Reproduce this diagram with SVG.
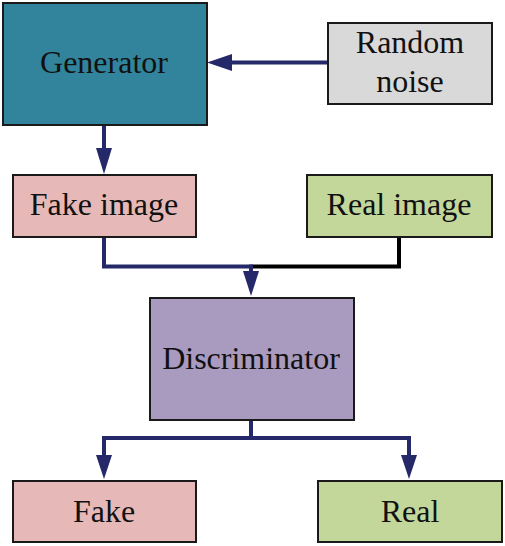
<svg xmlns="http://www.w3.org/2000/svg" width="505" height="546" viewBox="0 0 505 546">
<style>
.box{stroke:#1a1a1a;stroke-width:2}
.lbl{font-family:'Liberation Serif','Times New Roman',serif;font-size:32px;fill:#111;text-anchor:middle}
.ln{fill:none;stroke:#252869;stroke-width:4}
.blk{fill:none;stroke:#000;stroke-width:4}
.ah{fill:#252869}
</style>
<rect width="505" height="546" fill="#fff"/>
<g id="connectors">
<line class="ln" x1="328" y1="62.5" x2="230" y2="62.5"/>
<polygon class="ah" points="207,62.5 232,54 232,71"/>
<line class="ln" x1="104" y1="125" x2="104" y2="150"/>
<polygon class="ah" points="104,174 96,148 112,148"/>
<polyline class="blk" points="399,237 399,266.5 251,266.5"/>
<polyline class="ln" points="104,237 104,266.5 251,266.5"/>
<line class="ln" x1="251" y1="264.5" x2="251" y2="274"/>
<polygon class="ah" points="251,296 243,271 259,271"/>
<line class="ln" x1="251" y1="420" x2="251" y2="438"/>
<polyline class="ln" points="104,458 104,438 409,438 409,458"/>
<polygon class="ah" points="104,479 96,455 112,455"/>
<polygon class="ah" points="409,479 401,455 417,455"/>
</g>
<g id="generator">
<rect class="box" x="3" y="3" width="204" height="122" fill="#31849B"/>
<text class="lbl" x="104" y="73">Generator</text>
</g>
<g id="random-noise">
<rect class="box" x="328" y="23" width="164" height="81" fill="#D9D9D9"/>
<text class="lbl" x="410" y="53">Random</text>
<text class="lbl" x="410" y="92">noise</text>
</g>
<g id="fake-image">
<rect class="box" x="13" y="175" width="183" height="62" fill="#E6B9B8"/>
<text class="lbl" x="104" y="215">Fake image</text>
</g>
<g id="real-image">
<rect class="box" x="307" y="175" width="185" height="62" fill="#C4D79B"/>
<text class="lbl" x="399" y="215">Real image</text>
</g>
<g id="discriminator">
<rect class="box" x="150" y="298" width="204" height="122" fill="#A99BC0"/>
<text class="lbl" x="251" y="369">Discriminator</text>
</g>
<g id="fake">
<rect class="box" x="13" y="481" width="183" height="61" fill="#E6B9B8"/>
<text class="lbl" x="104" y="522">Fake</text>
</g>
<g id="real">
<rect class="box" x="318" y="481" width="184" height="61" fill="#C4D79B"/>
<text class="lbl" x="410" y="522">Real</text>
</g>
</svg>
